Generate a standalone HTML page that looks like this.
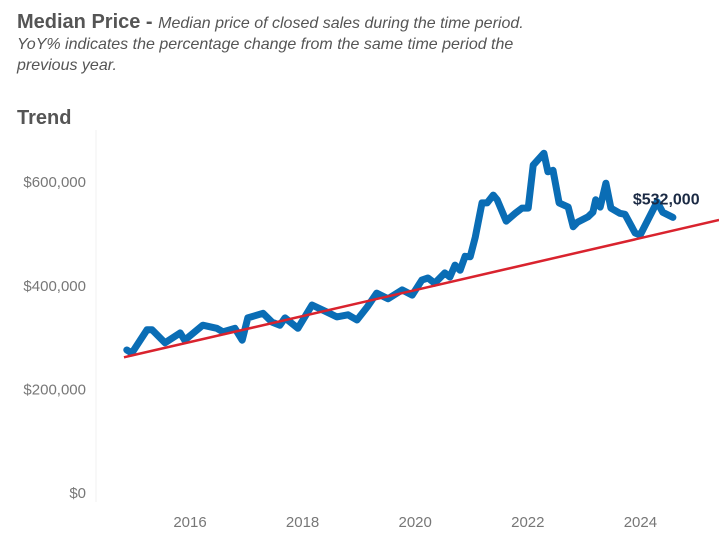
<!DOCTYPE html>
<html><head><meta charset="utf-8"><style>
body{margin:0;width:719px;height:549px;background:#fff;font-family:"Liberation Sans",sans-serif;overflow:hidden;position:relative}
#hdr{position:absolute;left:17px;top:12px;width:535px;color:#555;font-size:16px;line-height:21px}
#hdr b{font-size:20px;color:#555}
#hdr i{font-size:16px}
#trend{position:absolute;left:17px;top:107px;font-size:20px;font-weight:bold;color:#555}
svg{position:absolute;left:0;top:0}
</style></head><body>
<div id="hdr"><b>Median Price - </b><i>Median price of closed sales during the time period. YoY% indicates the percentage change from the same time period the previous year.</i></div>
<div id="trend">Trend</div>
<svg id="chart" width="719" height="549"></svg>
<script>
const dates=[2014.93,2015.02,2015.29,2015.38,2015.61,2015.88,2015.96,2016.28,2016.53,2016.64,2016.85,2016.98,2017.08,2017.35,2017.51,2017.65,2017.74,2017.97,2018.22,2018.49,2018.66,2018.86,2019.02,2019.2,2019.37,2019.57,2019.82,2020.0,2020.17,2020.28,2020.4,2020.58,2020.67,2020.76,2020.85,2020.94,2021.03,2021.12,2021.24,2021.33,2021.44,2021.51,2021.67,2021.83,2021.95,2022.06,2022.15,2022.34,2022.41,2022.5,2022.61,2022.77,2022.86,2022.94,2023.12,2023.21,2023.26,2023.34,2023.44,2023.53,2023.69,2023.78,2023.96,2024.05,2024.35,2024.45,2024.63];
const prices=[276000,270000,315000,315000,290000,309000,295000,324000,318000,311000,318000,295000,338000,347000,330000,324000,338000,318000,363000,349000,340000,344000,334000,359000,386000,375000,392000,382000,411000,415000,405000,425000,417000,440000,430000,457000,456000,494000,560000,560000,575000,566000,525000,540000,550000,550000,633000,656000,620000,623000,560000,552000,514000,523000,533000,542000,566000,552000,598000,550000,540000,538000,502000,498000,562000,542000,532000];
const trendX=[2014.88,2025.45];
const trendY=[262000,527000];
const yTicks=[0,200000,400000,600000];
const yTickLabels=["$0","$200,000","$400,000","$600,000"];
const xTicks=[2016,2018,2020,2022,2024];
const xTickLabels=["2016","2018","2020","2022","2024"];
const lastLabel="$532,000";
const NS="http://www.w3.org/2000/svg";
const svg=document.getElementById('chart');
const X=t=>187+(t-2016)*56.3;
const Y=v=>493-v*0.000518;
function mk(tag,attrs,parent){const e=document.createElementNS(NS,tag);for(const k in attrs)e.setAttribute(k,attrs[k]);(parent||svg).appendChild(e);return e;}
const ax=mk('line',{x1:96,y1:130,x2:96,y2:502,stroke:'#f0f0f0','stroke-width':1});


yTicks.forEach((v,i)=>{const t=mk('text',{x:86,y:Y(v)+5,'text-anchor':'end','font-size':15,fill:'#777','font-family':'Liberation Sans, sans-serif'});t.textContent=yTickLabels[i];

});
xTicks.forEach((v,i)=>{const t=mk('text',{x:X(v)+3,y:527,'text-anchor':'middle','font-size':15,fill:'#777','font-family':'Liberation Sans, sans-serif'});t.textContent=xTickLabels[i];

});
const d=dates.map((t,i)=>(i?'L':'M')+X(t).toFixed(1)+','+Y(prices[i]).toFixed(1)).join('');
const p=mk('path',{d:d,fill:'none',stroke:'#0a6db5','stroke-width':7,'stroke-linejoin':'round','stroke-linecap':'round'});


const tl=mk('line',{x1:X(trendX[0]),y1:Y(trendY[0]),x2:X(trendX[1]),y2:Y(trendY[1]),stroke:'#d9232e','stroke-width':2.5});


const n=dates.length-1;
const lb=mk('text',{x:X(dates[n])-40,y:Y(prices[n])-13,'font-size':16,'font-weight':'bold',fill:'#1b2a44','font-family':'Liberation Sans, sans-serif'});
lb.textContent=lastLabel;


</script>
</body></html>
